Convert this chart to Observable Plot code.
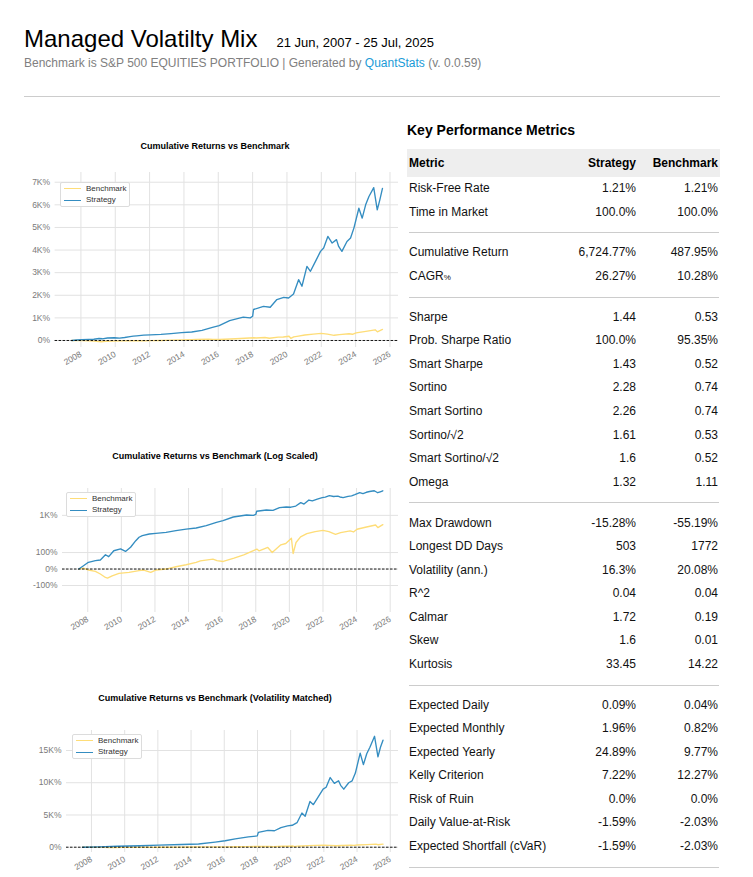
<!DOCTYPE html>
<html><head><meta charset="utf-8">
<script src="https://cdn.jsdelivr.net/npm/d3@7"></script>
<script src="https://cdn.jsdelivr.net/npm/@observablehq/plot@0.6"></script>
<style>
body{margin:0;background:#fff;font-family:Arial,"Liberation Sans",sans-serif;}
#page{position:relative;width:753px;height:877px;overflow:hidden;}
.abs{position:absolute;white-space:nowrap;}
.ctitle{position:absolute;font-weight:bold;font-size:9px;color:#000;text-align:center;width:300px;margin-left:-150px;line-height:10px;}
.legend{position:absolute;background:#fff;border:1px solid #dcdcdc;border-radius:2px;width:68px;height:23px;}
.legend .sw{position:absolute;left:3px;width:17px;height:0;border-top:1.4px solid;}
.legend .lt{position:absolute;left:25px;font-size:8px;color:#333;line-height:10px;}
.row{position:absolute;left:407px;width:313px;font-size:12px;color:#111;}
.row span{position:absolute;top:0;}
.sep{position:absolute;left:409px;width:310px;border-top:1px solid #ccc;}
</style></head><body><div id="page"></div>
<script>
// ---------- chart data (cumulative returns, %) ----------
const stratDates = ["2007-06-21","2007-10-01","2008-01-15","2008-06-15","2008-10-01","2009-01-20","2009-04-01","2009-07-20","2009-12-15","2010-04-01","2010-07-20","2010-11-10","2011-01-20","2011-04-01","2011-08-30","2012-01-20","2012-08-30","2013-04-01","2013-11-10","2014-06-15","2015-01-20","2015-08-30","2016-01-20","2016-08-30","2017-06-15","2017-11-10","2018-01-01","2018-01-20","2018-08-20","2019-01-10","2019-06-01","2019-10-25","2020-02-05","2020-05-20","2020-09-05","2020-11-15","2021-03-01","2021-05-15","2021-08-30","2021-12-15","2022-02-20","2022-05-20","2022-08-20","2022-11-20","2023-01-05","2023-03-15","2023-07-01","2023-09-15","2023-11-25","2024-03-10","2024-05-20","2024-08-01","2024-10-10","2025-01-20","2025-04-05","2025-05-30","2025-07-25"];
const stratValues = [0,20,41,51,55,87,75,111,122,107,132,172,193,207,235,247,268,305,345,375,450,580,660,880,1030,1000,1070,1370,1510,1470,1810,1910,1880,2060,2690,2400,3280,3060,3500,3940,4090,4600,4310,4460,4160,3940,4380,4530,4970,5850,5410,6000,6370,6760,5780,6220,6725];

const benchDates = ["2007-06-21","2007-10-01","2008-01-15","2008-06-15","2008-10-01","2009-01-20","2009-03-05","2009-06-15","2009-11-10","2010-06-15","2011-01-20","2011-05-01","2011-10-01","2012-01-20","2012-08-30","2013-04-01","2013-11-10","2014-06-15","2014-09-15","2015-06-15","2015-09-10","2016-01-25","2016-09-15","2017-04-15","2018-01-25","2018-03-15","2018-09-20","2018-12-24","2019-06-30","2019-10-15","2020-02-15","2020-03-23","2020-05-25","2020-09-01","2021-01-15","2021-07-15","2021-12-30","2022-05-10","2022-09-30","2023-01-20","2023-08-15","2023-10-27","2024-01-10","2024-08-05","2025-02-18","2025-04-08","2025-07-25"];
const benchValues = [0,5,-6,-14,-30,-51,-55,-41,-26,-20,-10,-6,-20,-6,0,14,26,41,50,60,51,46,66,86,121,110,131,100,147,155,187,94,161,195,242,282,313,282,230,262,298,275,339,404,473,384,488];

// volatility-matched strategy
const vmDates = ["2007-06-21","2008-06-15","2009-07-20","2010-12-01","2012-01-20","2013-06-01","2014-06-15","2015-06-15","2016-01-20","2016-08-30","2017-06-15","2017-12-28","2018-01-20","2018-08-20","2019-01-10","2019-06-01","2019-10-25","2020-02-05","2020-05-20","2020-09-05","2020-11-15","2021-03-01","2021-05-15","2021-08-30","2021-12-15","2022-02-20","2022-05-20","2022-08-20","2022-11-20","2023-01-05","2023-03-15","2023-07-01","2023-09-15","2023-11-25","2024-03-10","2024-05-20","2024-08-01","2024-10-10","2025-01-20","2025-04-05","2025-05-30","2025-07-25"];
const vmValues = [0,60,150,230,320,420,500,800,1000,1300,1600,1750,2300,2600,2550,3050,3300,3400,3800,5300,4800,7100,6600,7800,9000,9300,10800,9900,10300,9600,9000,10000,10300,11500,14600,12800,14500,15500,17200,14000,15500,16600];

const yearTicks = [2008,2010,2012,2014,2016,2018,2020,2022,2024,2026];
const linTicks = [0,1000,2000,3000,4000,5000,6000,7000];
const logTicks = [-100,0,100,1000];
const logTickLabels = ["-100%","0%","100%","1K%"];
const vmTicks = [0,5000,10000,15000];

// ---------- metrics table ----------
const metricNames = ["Risk-Free Rate","Time in Market","Cumulative Return","CAGR%","Sharpe","Prob. Sharpe Ratio","Smart Sharpe","Sortino","Smart Sortino","Sortino/√2","Smart Sortino/√2","Omega","Max Drawdown","Longest DD Days","Volatility (ann.)","R^2","Calmar","Skew","Kurtosis","Expected Daily","Expected Monthly","Expected Yearly","Kelly Criterion","Risk of Ruin","Daily Value-at-Risk","Expected Shortfall (cVaR)"];
const strategyMetrics = ["1.21%","100.0%","6,724.77%","26.27%","1.44","100.0%","1.43","2.28","2.26","1.61","1.6","1.32","-15.28%","503","16.3%","0.04","1.72","1.6","33.45","0.09%","1.96%","24.89%","7.22%","0.0%","-1.59%","-1.59%"];
const benchmarkMetrics = ["1.21%","100.0%","487.95%","10.28%","0.53","95.35%","0.52","0.74","0.74","0.53","0.52","1.11","-55.19%","1772","20.08%","0.04","0.19","0.01","14.22","0.04%","0.82%","9.77%","12.27%","0.0%","-2.03%","-2.03%"];
const separatorAfter = [1,3,11,18,25];

const BLUE = "#348dc1", YELLOW = "#fedd78";
const page = document.getElementById("page");
function add(html){ page.insertAdjacentHTML("beforeend", html); }

// ---------- header ----------
add(`<div class="abs" style="left:24px;top:27px;font-size:24px;line-height:24px;color:#000;">Managed Volatilty Mix<span style="font-size:13px;margin-left:19px;">21 Jun, 2007 - 25 Jul, 2025</span></div>`);
add(`<div class="abs" style="left:24px;top:57px;font-size:12px;line-height:12px;color:#808080;">Benchmark is S&amp;P 500 EQUITIES PORTFOLIO | Generated by <span style="color:#1a9bd7;">QuantStats</span> (v. 0.0.59)</div>`);
add(`<div class="abs" style="left:24px;top:96px;width:696px;border-top:1px solid #ccc;"></div>`);

// ---------- charts ----------
const k = 1/(1-1/10);
function symlogMpl(pct){ const a = pct/100; const m = Math.abs(a); return m <= 2 ? a*k : Math.sign(a)*2*(k + Math.log10(m/2)); }
const toRows = (ds, vs) => ds.map((d,i)=>({date:new Date(d), v:vs[i]}));
const xDomain = [new Date("2006-07-01"), new Date("2026-07-01")];
const yearDates = yearTicks.map(y => new Date(Date.UTC(y,0,1)));
const kFmt = v => v === 0 ? "0%" : (v/1000) + "K%";

function chart({top, height, mt, mb, ml, yDomain, yTickVals, yFmt, yf, lines, title, titleY, legendX, legendY}){
  const marks = [
    Plot.gridX({ticks: yearDates, stroke:"#e2e2e2", strokeOpacity:1, strokeWidth:1}),
    Plot.gridY({ticks: yTickVals, stroke:"#e2e2e2", strokeOpacity:1, strokeWidth:1}),
    Plot.axisX({ticks: yearDates, tickFormat: d3.utcFormat("%Y"), tickRotate:-30, tickSize:0, tickPadding:6, label:null}),
    Plot.axisY({ticks: yTickVals, tickFormat: yFmt, tickSize:0, tickPadding:5, label:null})
  ];
  lines.forEach(l => marks.push(Plot.line(l.data, {x:"date", y: d => yf(d.v), stroke:l.color, strokeWidth:1.35})));
  marks.push(Plot.ruleY([0], {stroke:"#000", strokeDasharray:"2.5,1.5", strokeWidth:0.9}));
  const svg = Plot.plot({
    width:410, height, marginLeft:ml, marginRight:12, marginTop:mt, marginBottom:mb,
    x:{type:"utc", domain:xDomain},
    y:{domain:yDomain},
    style:{fontFamily:"Arial, 'Liberation Sans', sans-serif", fontSize:"8.5px", color:"#7a7a7a", background:"transparent", overflow:"visible"},
    marks
  });
  svg.style.position = "absolute"; svg.style.left = "0px"; svg.style.top = top + "px";
  page.appendChild(svg);
  add(`<div class="ctitle" style="left:215px;top:${titleY}px;">${title}</div>`);
  add(`<div class="legend" style="left:${legendX}px;top:${legendY}px;">
    <div class="sw" style="top:5px;border-color:${YELLOW};"></div><div class="lt" style="top:1px;">Benchmark</div>
    <div class="sw" style="top:16.5px;border-color:${BLUE};"></div><div class="lt" style="top:12px;">Strategy</div></div>`);
}

const stratRows = toRows(stratDates, stratValues);
const benchRows = toRows(benchDates, benchValues);
const vmRows = toRows(vmDates, vmValues);
const ident = v => v;

chart({top:160, height:215, mt:12, mb:28, ml:54.6, yDomain:[-310,7430], yTickVals:linTicks, yFmt:kFmt, yf:ident,
  lines:[{data:benchRows,color:YELLOW},{data:stratRows,color:BLUE}], title:"Cumulative Returns vs Benchmark", titleY:141, legendX:60, legendY:182});

const logMap = new Map(logTicks.map((t,i)=>[symlogMpl(t), logTickLabels[i]]));
chart({top:476, height:160, mt:12, mb:24, ml:62, yDomain:[-2.93,5.43], yTickVals:logTicks.map(symlogMpl), yFmt:d=>logMap.get(d), yf:symlogMpl,
  lines:[{data:benchRows,color:YELLOW},{data:stratRows,color:BLUE}], title:"Cumulative Returns vs Benchmark (Log Scaled)", titleY:451, legendX:66, legendY:492});

chart({top:718, height:159, mt:12, mb:25, ml:66, yDomain:[-820,18100], yTickVals:vmTicks, yFmt:kFmt, yf:ident,
  lines:[{data:benchRows,color:YELLOW},{data:vmRows,color:BLUE}], title:"Cumulative Returns vs Benchmark (Volatility Matched)", titleY:693, legendX:72, legendY:734});

// ---------- metrics table ----------
add(`<div class="abs" style="left:407px;top:123px;font-size:14px;line-height:14px;font-weight:bold;color:#000;">Key Performance Metrics</div>`);
add(`<div class="row" style="top:149px;height:28px;line-height:28px;background:#eee;font-weight:bold;color:#000;">
  <span style="left:2px;">Metric</span><span style="right:84px;">Strategy</span><span style="right:2px;">Benchmark</span></div>`);
const RH = 23.55, SEP = 17.3;
let y = 177;
metricNames.forEach((name,i)=>{
  const label = name === "CAGR%" ? `CAGR<span style="position:static;font-size:8px;">%</span>` : name;
  add(`<div class="row" style="top:${y}px;height:${RH}px;line-height:${RH}px;">
    <span style="left:2px;">${label}</span><span style="right:84px;">${strategyMetrics[i]}</span><span style="right:2px;">${benchmarkMetrics[i]}</span></div>`);
  y += RH;
  if (separatorAfter.includes(i)) { add(`<div class="sep" style="top:${y + SEP/2 - 0.5}px;"></div>`); y += SEP; }
});
</script></body></html>
